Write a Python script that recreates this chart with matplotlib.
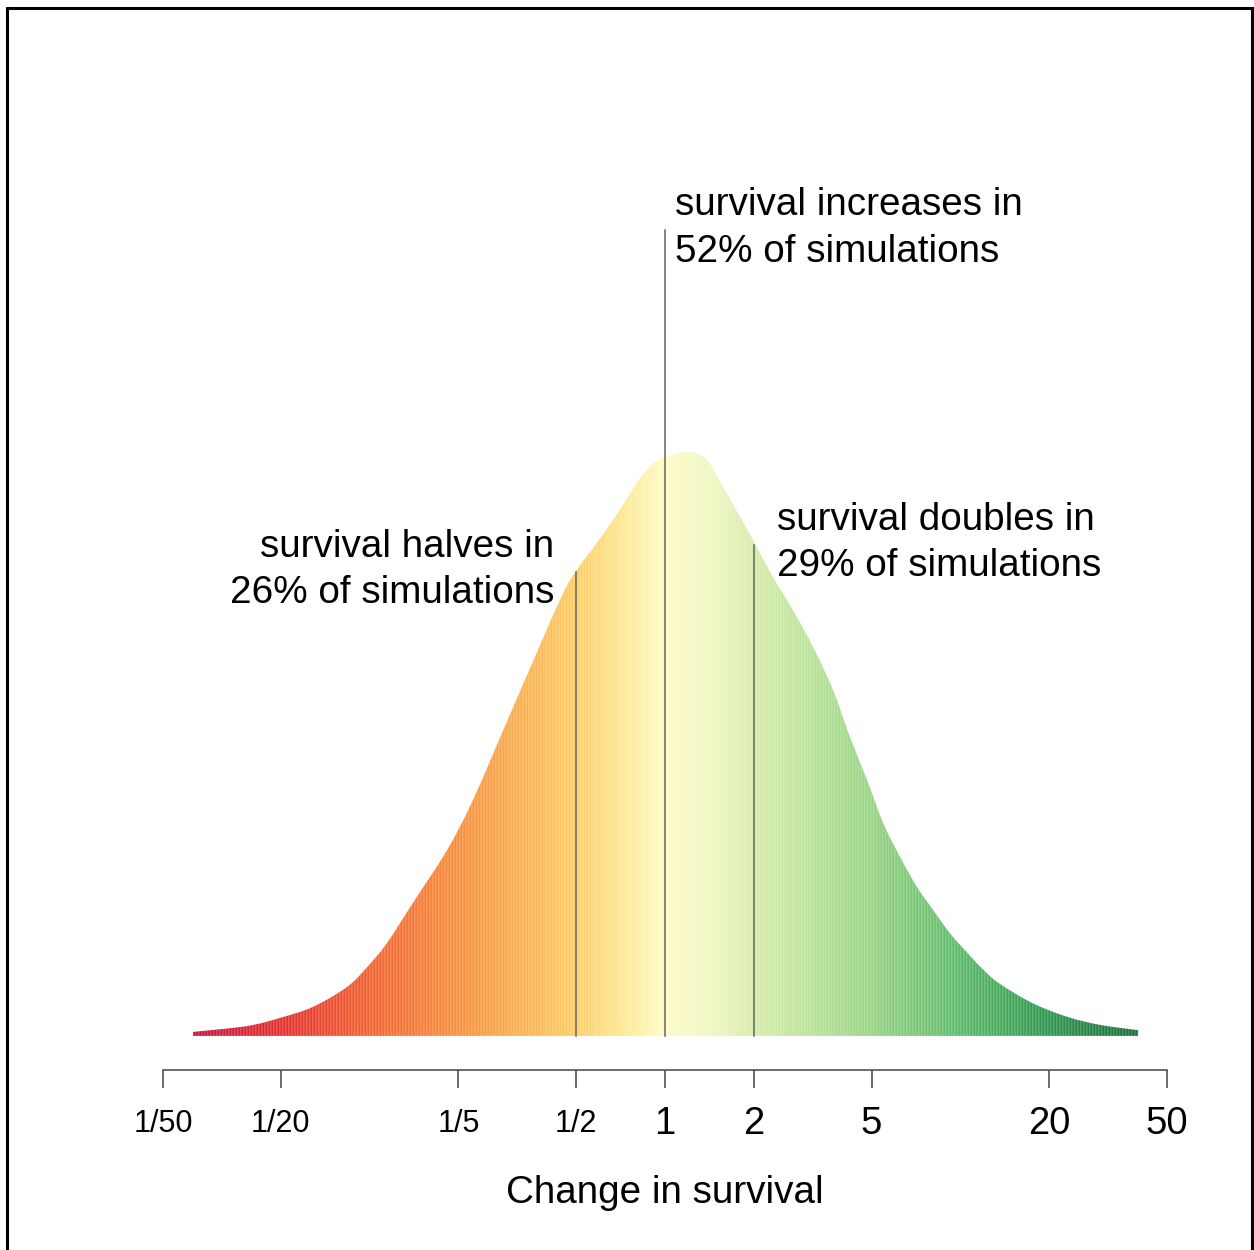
import numpy as np
import matplotlib.pyplot as plt
from matplotlib.colors import LinearSegmentedColormap
from matplotlib.patches import PathPatch, Rectangle
from matplotlib.path import Path

plt.rcParams['font.family'] = ['Liberation Sans', 'DejaVu Sans']

# density of simulated change in survival, x = log10(fold change), y = relative density
log_change = [-1.597, -1.415, -1.303, -1.191, -1.076, -1.008, -0.941, -0.853, -0.738,
              -0.650, -0.525, -0.355, -0.298, -0.244, -0.186, -0.129, -0.074, -0.017,
              0.074, 0.142, 0.196, 0.254, 0.298, 0.365, 0.433, 0.501, 0.569, 0.626,
              0.684, 0.738, 0.795, 0.853, 0.907, 0.964, 1.022, 1.076, 1.134, 1.245,
              1.360, 1.472, 1.601]
density = [0.007, 0.017, 0.031, 0.050, 0.084, 0.118, 0.159, 0.228, 0.318,
           0.404, 0.550, 0.747, 0.798, 0.835, 0.876, 0.920, 0.962, 0.988,
           1.000, 0.986, 0.940, 0.889, 0.849, 0.786, 0.729, 0.666, 0.592, 0.512,
           0.438, 0.365, 0.307, 0.255, 0.216, 0.176, 0.143, 0.114, 0.089, 0.056,
           0.033, 0.019, 0.010]

tick_values = [1/50, 1/20, 1/5, 1/2, 1, 2, 5, 20, 50]
tick_labels = ['1/50', '1/20', '1/5', '1/2', '1', '2', '5', '20', '50']

# reference lines: fold change and how high they reach
ref_fold = [0.5, 1, 2]
ref_top = [0.795, 1.380, 0.841]
notes = [('survival halves in', '26% of simulations'),
         ('survival increases in', '52% of simulations'),
         ('survival doubles in', '29% of simulations')]

# red -> yellow -> green ramp along log10 change (-1.6 .. 1.6)
ramp = LinearSegmentedColormap.from_list('ramp', [
    (0.00, '#c4123a'), (0.10, '#e6322a'), (0.19, '#f2642e'), (0.28, '#f78f3c'),
    (0.36, '#fbb652'), (0.41, '#fcd068'), (0.46, '#fdeb98'), (0.50, '#fefcc6'),
    (0.55, '#eef6c0'), (0.59, '#d8edaa'), (0.66, '#b4e196'), (0.72, '#96d282'),
    (0.81, '#5cba6a'), (0.90, '#2f984f'), (1.00, '#196c3a')])

fig = plt.figure(figsize=(12.54, 12.5), dpi=100)
ax = fig.add_axes([100/1254, 214/1250, 1100/1254, 886/1250])
ax.set_xlim((100-665)/295.5, (1200-665)/295.5)
ax.set_ylim(0, 886/584)

# smooth outline (catmull-rom as bezier) through the read points, used as clip
pts = np.column_stack([log_change, density])
verts = [(pts[0, 0], 0), tuple(pts[0])]
codes = [Path.MOVETO, Path.LINETO]
for i in range(len(pts) - 1):
    p0 = pts[max(i - 1, 0)]
    p1, p2 = pts[i], pts[i + 1]
    p3 = pts[min(i + 2, len(pts) - 1)]
    verts += [tuple(p1 + (p2 - p0) / 6), tuple(p2 - (p3 - p1) / 6), tuple(p2)]
    codes += [Path.CURVE4] * 3
verts += [(pts[-1, 0], 0), (pts[0, 0], 0)]
codes += [Path.LINETO, Path.CLOSEPOLY]
shape = PathPatch(Path(verts, codes), facecolor='none', edgecolor='none')
ax.add_patch(shape)

step = 3/295.5
centers = np.arange(log_change[0], log_change[-1] + step, step)
colors = ramp(np.clip((centers + 1.6) / 3.2, 0, 1))
bars = ax.bar(centers, 1.1, width=step, color=colors, align='edge',
              edgecolor=(1, 1, 1, 0.45), linewidth=0.35)
for b in bars:
    b.set_clip_path(shape)

ax.plot([(155-665)/295.5, (1178-665)/295.5], [0, 0], color='#e4e4e4', lw=0.8, zorder=0)

for f, top in zip(ref_fold, ref_top):
    ax.plot([np.log10(f)]*2, [0, top], color='#666666', lw=1.1, clip_on=False)

# annotations
fs = 27.8
ax.text(np.log10(2)+0.078, (1036-530)/584, notes[2][0], fontsize=fs, va='baseline', ha='left')
ax.text(np.log10(2)+0.078, (1036-576)/584, notes[2][1], fontsize=fs, va='baseline', ha='left')
ax.text(0.034, (1036-215)/584, notes[1][0], fontsize=fs, va='baseline', ha='left')
ax.text(0.034, (1036-262)/584, notes[1][1], fontsize=fs, va='baseline', ha='left')
ax.text(np.log10(0.5)-0.075, (1036-557)/584, notes[0][0], fontsize=fs, va='baseline', ha='right')
ax.text(np.log10(0.5)-0.075, (1036-603)/584, notes[0][1], fontsize=fs, va='baseline', ha='right')

for s in ['top', 'right', 'left']:
    ax.spines[s].set_visible(False)
ax.spines['bottom'].set_position(('outward', 24.5))
ax.spines['bottom'].set_bounds(np.log10(1/50), np.log10(50))
ax.spines['bottom'].set_color('#444444')
ax.spines['bottom'].set_linewidth(1.1)
ax.set_yticks([])
ax.set_xticks(np.log10(tick_values))
ax.set_xticklabels(tick_labels)
ax.tick_params(axis='x', length=13, width=1.1, color='#444444', pad=25.5)
for lab in ax.get_xticklabels():
    lab.set_va('center')
    lab.set_fontsize(22 if '/' in lab.get_text() else 27.5)

ax.set_xlabel('Change in survival', fontsize=fs)
ax.xaxis.set_label_coords((665-100)/1100, -(1175-1036)/886)

fig.patches.append(Rectangle((7/1254, -0.01), 1245/1254, 1.01 - 8/1250, transform=fig.transFigure,
                             fill=False, edgecolor='black', lw=2.2))

fig.savefig('out.png', dpi=100)
